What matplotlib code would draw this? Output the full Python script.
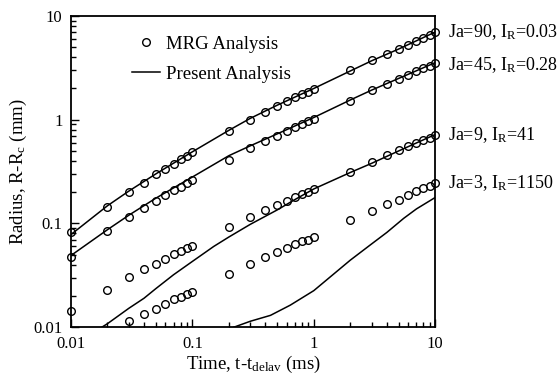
import matplotlib
matplotlib.use('Agg')
import matplotlib.pyplot as plt
from matplotlib.ticker import LogLocator, NullFormatter, FixedLocator, FixedFormatter

plt.rcParams['font.family'] = ['Liberation Serif', 'DejaVu Serif']
plt.rcParams['mathtext.fontset'] = 'custom'
plt.rcParams['mathtext.rm'] = 'Liberation Serif'
plt.rcParams['mathtext.it'] = 'Liberation Serif:italic'

# MRG analysis sample times (ms)
t_mrg = [0.01, 0.02, 0.03, 0.04, 0.05, 0.06, 0.07, 0.08, 0.09, 0.1,
         0.2, 0.3, 0.4, 0.5, 0.6, 0.7, 0.8, 0.9, 1,
         2, 3, 4, 5, 6, 7, 8, 9, 10]

# MRG analysis radii (mm)
mrg_ja90 = [0.082, 0.145, 0.203, 0.248, 0.297, 0.336, 0.376, 0.414, 0.449, 0.483,
            0.776, 0.997, 1.175, 1.35, 1.50, 1.64, 1.78, 1.85, 1.96,
            2.99, 3.73, 4.30, 4.80, 5.27, 5.72, 6.12, 6.50, 7.0]
mrg_ja45 = [0.048, 0.084, 0.116, 0.142, 0.165, 0.186, 0.208, 0.225, 0.243, 0.260,
            0.408, 0.528, 0.617, 0.695, 0.776, 0.849, 0.914, 0.962, 1.02,
            1.52, 1.92, 2.20, 2.45, 2.71, 2.92, 3.12, 3.29, 3.54]
mrg_ja9 = [0.0144, 0.0227, 0.0303, 0.036, 0.041, 0.0456, 0.0502, 0.0544, 0.0578, 0.0608,
           0.092, 0.116, 0.134, 0.151, 0.165, 0.178, 0.192, 0.200, 0.217,
           0.310, 0.387, 0.452, 0.516, 0.556, 0.598, 0.635, 0.669, 0.711]
mrg_ja3 = [None, None, 0.0114, 0.0133, 0.0149, 0.0168, 0.0185, 0.0195, 0.0208, 0.0219,
           0.0329, 0.0405, 0.047, 0.0532, 0.0574, 0.063, 0.0675, 0.070, 0.0743,
           0.107, 0.131, 0.153, 0.170, 0.190, 0.205, 0.222, 0.231, 0.243]

# Present analysis curves
t_a = [0.01, 0.02, 0.03, 0.05, 0.1, 0.2, 0.3, 0.5, 1, 2, 3, 5, 10]
line_ja90 = [0.078, 0.148, 0.205, 0.30, 0.49, 0.79, 1.03, 1.38, 2.0, 2.95, 3.7, 4.8, 7.0]
line_ja45 = [0.049, 0.087, 0.12, 0.175, 0.28, 0.45, 0.56, 0.73, 1.05, 1.55, 1.93, 2.5, 3.55]

t_c = [0.018, 0.02, 0.03, 0.04, 0.05, 0.07, 0.1, 0.15, 0.2, 0.3, 0.5, 0.7, 1, 2, 3, 5, 10]
line_ja9 = [0.0100, 0.0108, 0.0152, 0.019, 0.0235, 0.032, 0.043, 0.06, 0.074, 0.098,
            0.135, 0.17, 0.215, 0.31, 0.38, 0.50, 0.72]

t_d = [0.22, 0.3, 0.44, 0.64, 1, 2, 2.9, 4, 5.5, 7, 10]
line_ja3 = [0.0100, 0.0114, 0.0130, 0.0163, 0.0225, 0.0443, 0.0617, 0.082, 0.112, 0.138, 0.178]

labels = ['Ja=90, I$_\\mathrm{R}$=0.03', 'Ja=45, I$_\\mathrm{R}$=0.28',
          'Ja=9, I$_\\mathrm{R}$=41', 'Ja=3, I$_\\mathrm{R}$=1150']
label_y = [7.0, 3.54, 0.711, 0.243]
label_dy = [0, -2, 0, 0]

fig = plt.figure(figsize=(5.58, 3.8), dpi=100)
ax = fig.add_axes([0.127, 0.139, 0.653, 0.819])

first = True
for ys in [mrg_ja90, mrg_ja45, mrg_ja9, mrg_ja3]:
    tt = [t for t, y in zip(t_mrg, ys) if y is not None]
    yy = [y for y in ys if y is not None]
    ax.plot(tt, yy, 'o', mfc='none', mec='black', ms=5.5, mew=1.0,
            label='MRG Analysis' if first else None, clip_on=False, zorder=3)
    first = False

ax.plot(t_a, line_ja90, 'k-', lw=1.1, label='Present Analysis')
ax.plot(t_a, line_ja45, 'k-', lw=1.1)
ax.plot(t_c, line_ja9, 'k-', lw=1.1)
ax.plot(t_d, line_ja3, 'k-', lw=1.1)

ax.set_xscale('log')
ax.set_yscale('log')
ax.set_xlim(0.01, 10)
ax.set_ylim(0.01, 10)

ax.xaxis.set_major_locator(FixedLocator([0.01, 0.1, 1, 10]))
ax.xaxis.set_major_formatter(FixedFormatter(['0.01', '0.1', '1', '10']))
ax.yaxis.set_major_locator(FixedLocator([0.01, 0.1, 1, 10]))
ax.yaxis.set_major_formatter(FixedFormatter(['0.01', '0.1', '1', '10']))
ax.xaxis.set_minor_locator(LogLocator(base=10, subs=range(2, 10)))
ax.yaxis.set_minor_locator(LogLocator(base=10, subs=range(2, 10)))
ax.xaxis.set_minor_formatter(NullFormatter())
ax.yaxis.set_minor_formatter(NullFormatter())

ax.tick_params(which='both', direction='in', top=False, right=False, labelsize=12, width=1.0)
ax.tick_params(which='major', length=6, pad=6)
ax.tick_params(which='minor', length=3.5)
for s in ax.spines.values():
    s.set_linewidth(1.3)

ax.set_xlabel('Time, t-t$_\\mathrm{delav}$ (ms)', fontsize=13.5, labelpad=2)
ax.set_ylabel('Radius, R-R$_\\mathrm{c}$ (mm)', fontsize=13.5, labelpad=3)

for lab, y, dy in zip(labels, label_y, label_dy):
    ax.annotate(lab, xy=(10, y), xytext=(9.5, dy), textcoords='offset points',
                va='center', ha='left', fontsize=13, annotation_clip=False)

ax.legend(loc='upper left', bbox_to_anchor=(0.223, 0.926), bbox_transform=fig.transFigure,
          frameon=False, fontsize=13.5, handlelength=1.5, handletextpad=0.3,
          labelspacing=0.7, borderaxespad=0, borderpad=0.4)

fig.savefig('out.png', dpi=100)
